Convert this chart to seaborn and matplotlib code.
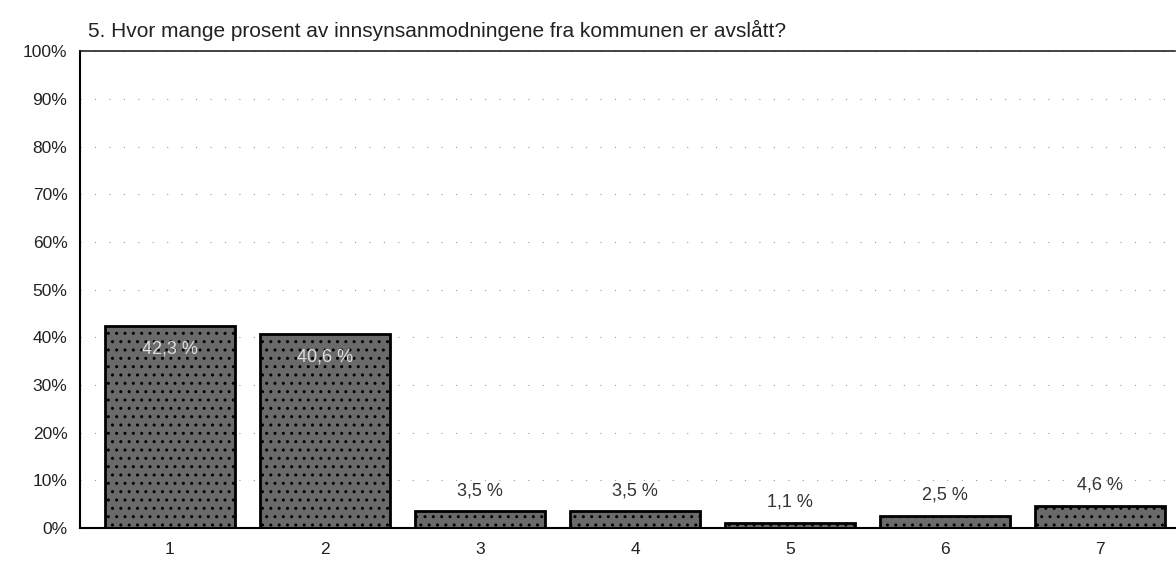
import seaborn as sns
import matplotlib.pyplot as plt
import pandas as pd

categories = ['1', '2', '3', '4', '5', '6', '7']
values = [42.3, 40.6, 3.5, 3.5, 1.1, 2.5, 4.6]
labels = ['42,3 %', '40,6 %', '3,5 %', '3,5 %', '1,1 %', '2,5 %', '4,6 %']
title = '5. Hvor mange prosent av innsynsanmodningene fra kommunen er avslått?'

df = pd.DataFrame({'Svar': categories, 'Prosent': values})

sns.set_style("white")
plt.rcParams['font.family'] = ['Liberation Sans', 'DejaVu Sans']

fig = plt.figure(figsize=(11.76, 5.69), dpi=100)
ax = fig.add_axes([0.068, 0.072, 0.932, 0.838])

sns.barplot(x='Svar', y='Prosent', data=df, color='#6a6a6a', width=0.84,
            edgecolor='black', linewidth=2.0, ax=ax)
for bar in ax.patches:
    bar.set_hatch('..')
    bar.set_alpha(1)

ax.set_ylim(0, 100)
ax.set_xlim(-0.58, 6.49)
ax.set_yticks(range(0, 101, 10))
ax.set_yticklabels([f'{t}%' for t in range(0, 101, 10)], fontsize=12.5, color='#222222')
ax.tick_params(axis='x', labelsize=12.5, labelcolor='#222222', length=4, width=1,
               direction='out', pad=6)
ax.tick_params(axis='y', length=5, width=1, direction='out', pad=4)
ax.set_xlabel('')
ax.set_ylabel('')

ax.yaxis.grid(True, linestyle=(0, (1, 12)), color='#999999', linewidth=0.8)
ax.set_axisbelow(True)

for s in ['left', 'bottom']:
    ax.spines[s].set_linewidth(1.5)
    ax.spines[s].set_color('black')
ax.spines['top'].set_linestyle((0, (6, 1)))
ax.spines['top'].set_linewidth(1.2)
ax.spines['top'].set_color('#222222')
ax.spines['right'].set_visible(False)

for i, (v, lab) in enumerate(zip(values, labels)):
    if v > 20:
        ax.annotate(lab, (i, v), xytext=(0, -16), textcoords='offset points',
                    ha='center', va='center', fontsize=13, color='#dddddd')
    else:
        ax.annotate(lab, (i, v), xytext=(0, 15), textcoords='offset points',
                    ha='center', va='center', fontsize=13, color='#333333')

fig.text(0.075, 0.947, title, fontsize=15, ha='left', va='center', color='#222222')

plt.savefig('out.png', dpi=100)
